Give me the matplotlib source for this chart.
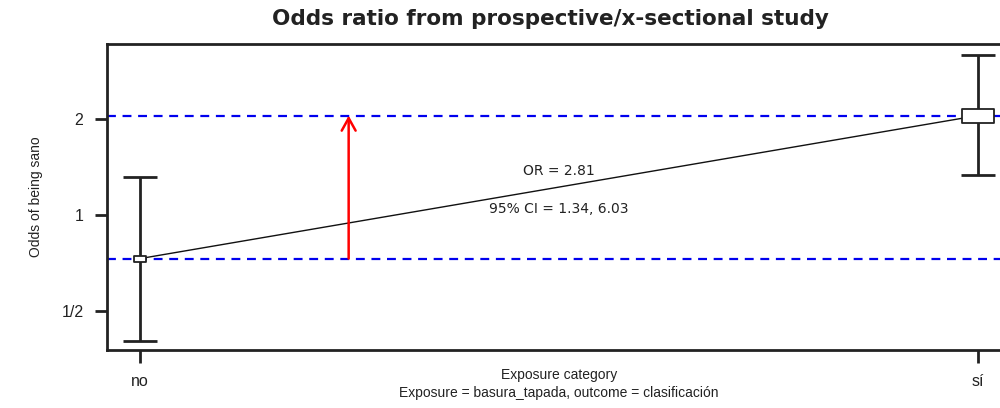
import numpy as np
import matplotlib
matplotlib.use("Agg")
import matplotlib.pyplot as plt
from matplotlib.path import Path

# data
groups = ["no", "sí"]
odds = [0.73, 2.05]
ci_low = [0.403, 1.335]
ci_high = [1.316, 3.17]
box_w = [12, 32]   # box size in pixels (sample size)
or_text = "OR = 2.81"
ci_text = "95% CI = 1.34, 6.03"

narrow = "Liberation Sans"
ink = "#222222"

fig = plt.figure(figsize=(10, 4.08), dpi=100)
ax = fig.add_axes([0.107, 1 - 350 / 408, 0.904, 306 / 408])

x = np.arange(1, len(groups) + 1)
ax.set_yscale("log", base=2)
ax.set_xlim(1 - 33 / 838, 2 + 33 / 838)
ax.set_ylim(2 ** -1.406, 2 ** 1.781)

# reference lines at the two odds
for o in odds:
    ax.axhline(o, color="#0000ee", ls=(0, (4, 3)), lw=1.6, zorder=1)

# connecting line
ax.plot(x, odds, color="#111111", lw=1, zorder=3)

# error bars
ax.errorbar(x, odds, yerr=[np.array(odds) - np.array(ci_low), np.array(ci_high) - np.array(odds)],
            fmt="none", ecolor=ink, elinewidth=2, capsize=12.5, capthick=2, zorder=2)

# boxes, flatter than squares
for xi, o, w in zip(x, odds, box_w):
    ratio = 0.5 if w < 20 else 0.44
    verts = [(-1, -ratio), (1, -ratio), (1, ratio), (-1, ratio), (-1, -ratio)]
    m = Path(verts, [Path.MOVETO, Path.LINETO, Path.LINETO, Path.LINETO, Path.CLOSEPOLY])
    ax.plot([xi], [o], marker=m, markersize=w * 0.72, mfc="white", mec=ink,
            mew=1.3, ls="none", zorder=4)

# red arrow from odds of "no" to odds of "sí"
ax.annotate("", xy=(1.249, odds[1]), xytext=(1.249, odds[0]),
            arrowprops=dict(arrowstyle="->,head_length=0.9,head_width=0.5",
                            color="red", lw=1.8, shrinkA=0, shrinkB=0), zorder=5)

ax.text(1.5, 1.374, or_text, ha="center", va="center", fontsize=10,
        family="DejaVu Sans", color=ink)
ax.text(1.5, 1.044, ci_text, ha="center", va="center", fontsize=10,
        family="DejaVu Sans", color=ink)

ax.set_yticks([0.5, 1, 2])
ax.set_yticklabels(["1/2", "1", "2"])
ax.yaxis.set_minor_locator(matplotlib.ticker.NullLocator())
ax.set_xticks(x)
ax.set_xticklabels(groups)
ax.tick_params(axis="both", length=9, width=2, color=ink, labelsize=11.5,
               labelcolor=ink, pad=8)
for lab in ax.get_xticklabels() + ax.get_yticklabels():
    lab.set_family(narrow)
for s in ax.spines.values():
    s.set_linewidth(2)
    s.set_color(ink)

fig.text(0.036, 1 - 197 / 408, "Odds of being sano", rotation=90, ha="center", va="center",
         family=narrow, fontsize=10, color=ink)
fig.text(0.559, 1 - 375 / 408, "Exposure category", ha="center", va="center",
         family=narrow, fontsize=10, color=ink)
fig.text(0.559, 1 - 393 / 408, "Exposure = basura_tapada, outcome = clasificación",
         ha="center", va="center", family=narrow, fontsize=10, color=ink)

fig.text(0.55, 1 - 19 / 408, "Odds ratio from prospective/x-sectional study", ha="center",
         va="center", family="DejaVu Sans", fontweight="bold", fontsize=15.5, color=ink)

fig.savefig("out.png", dpi=100)
